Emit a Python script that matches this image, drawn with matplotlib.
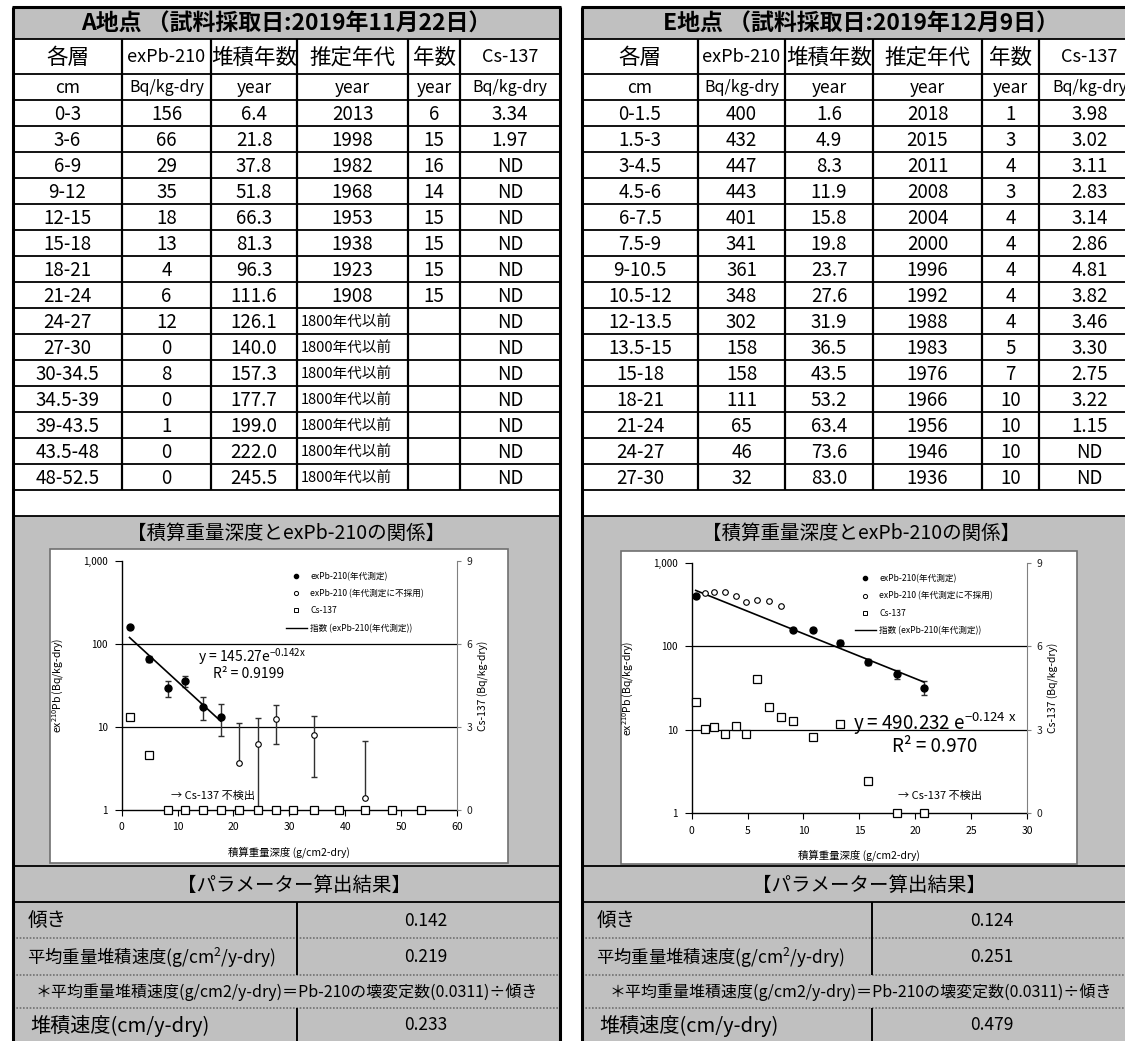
import matplotlib
matplotlib.use('Agg')
import matplotlib.pyplot as plt
import numpy as np
from matplotlib.patches import Rectangle
from matplotlib.lines import Line2D

plt.rcParams['font.family'] = ['Noto Sans CJK JP', 'DejaVu Sans']
plt.rcParams['mathtext.fontset'] = 'dejavusans'

# ---------------- data ----------------
headers = ["各層", "exPb-210", "堆積年数", "推定年代", "年数", "Cs-137"]
units = ["cm", "Bq/kg-dry", "year", "year", "year", "Bq/kg-dry"]

A_title = "A地点 （試料採取日:2019年11月22日）"
A_layers = ["0-3", "3-6", "6-9", "9-12", "12-15", "15-18", "18-21", "21-24", "24-27",
            "27-30", "30-34.5", "34.5-39", "39-43.5", "43.5-48", "48-52.5"]
A_pb = ["156", "66", "29", "35", "18", "13", "4", "6", "12", "0", "8", "0", "1", "0", "0"]
A_years = ["6.4", "21.8", "37.8", "51.8", "66.3", "81.3", "96.3", "111.6", "126.1",
           "140.0", "157.3", "177.7", "199.0", "222.0", "245.5"]
A_age = ["2013", "1998", "1982", "1968", "1953", "1938", "1923", "1908"] + ["1800年代以前"] * 7
A_span = ["6", "15", "16", "14", "15", "15", "15", "15", "", "", "", "", "", "", ""]
A_cs = ["3.34", "1.97"] + ["ND"] * 13

E_title = "E地点 （試料採取日:2019年12月9日）"
E_layers = ["0-1.5", "1.5-3", "3-4.5", "4.5-6", "6-7.5", "7.5-9", "9-10.5", "10.5-12",
            "12-13.5", "13.5-15", "15-18", "18-21", "21-24", "24-27", "27-30"]
E_pb = ["400", "432", "447", "443", "401", "341", "361", "348", "302", "158", "158",
        "111", "65", "46", "32"]
E_years = ["1.6", "4.9", "8.3", "11.9", "15.8", "19.8", "23.7", "27.6", "31.9", "36.5",
           "43.5", "53.2", "63.4", "73.6", "83.0"]
E_age = ["2018", "2015", "2011", "2008", "2004", "2000", "1996", "1992", "1988", "1983",
         "1976", "1966", "1956", "1946", "1936"]
E_span = ["1", "3", "4", "3", "4", "4", "4", "4", "4", "5", "7", "10", "10", "10", "10"]
E_cs = ["3.98", "3.02", "3.11", "2.83", "3.14", "2.86", "4.81", "3.82", "3.46", "3.30",
        "2.75", "3.22", "1.15", "ND", "ND"]

# chart data (cumulative mass depth g/cm2-dry)
A_depth = [1.4, 4.8, 8.2, 11.3, 14.5, 17.7, 21.0, 24.4, 27.6, 30.6, 34.4, 38.8, 43.5, 48.4, 53.6]
A_pb_plot = [158, 66, 29.5, 35.4, 17.4, 13.2, 3.7, 6.3, 12.3, np.nan, 8.0, np.nan, 1.38, np.nan, np.nan]
A_pb_used = [1, 1, 1, 1, 1, 1, 0, 0, 0, 0, 0, 0, 0, 0, 0]
A_err_lo = [8, 6, 6.3, 4.8, 5.4, 5.5, 0, 5.8, 6.1, 0, 5.5, 0, 0, 0, 0]
A_err_hi = [8, 6, 6.0, 5.2, 5.6, 5.7, 7.3, 6.6, 6.0, 0, 5.5, 0, 5.3, 0, 0]
A_cs_plot = [3.34, 1.97, 0, 0, 0, 0, 0, 0, 0, 0, 0, 0, 0, 0, 0]
A_fit = (145.27, 0.142)

E_depth = [0.36, 1.17, 2.03, 2.94, 3.92, 4.88, 5.85, 6.94, 8.0, 9.09, 10.85, 13.28, 15.8, 18.4, 20.75]
E_pb_plot = [400, 432, 447, 443, 401, 341, 361, 348, 302, 158, 158, 111, 65, 46, 32]
E_pb_used = [1, 0, 0, 0, 0, 0, 0, 0, 0, 1, 1, 1, 1, 1, 1]
E_err_lo = [15, 0, 0, 0, 0, 0, 0, 0, 0, 8, 8, 7, 6, 6, 6]
E_err_hi = [15, 0, 0, 0, 0, 0, 0, 0, 0, 8, 8, 7, 6, 6, 6]
E_cs_plot = [3.98, 3.02, 3.11, 2.83, 3.14, 2.86, 4.81, 3.82, 3.46, 3.30, 2.75, 3.22, 1.15, 0, 0]
E_fit = (490.232, 0.124)

A_params = ["0.142", "0.219", "0.233"]
E_params = ["0.124", "0.251", "0.479"]

# ---------------- layout (pixels) ----------------
W, H = 1125, 1041
TITLE_TOP, HDR_TOP, UNIT_TOP, DATA_TOP, ROW_H = 7, 39, 74, 100, 26
DATA_BOT = DATA_TOP + ROW_H * 15
BLANK_BOT = DATA_BOT + 26
CHEAD_BOT = 548
PHEAD_TOP, P1, P2, P3, P4 = 866, 902, 938, 975, 1008
GRAY = '#c0c0c0'

fig = plt.figure(figsize=(W / 100, H / 100), dpi=100)
bg = fig.add_axes([0, 0, 1, 1])
bg.set_xlim(0, W)
bg.set_ylim(H, 0)
bg.axis('off')


def T(x, y, s, size, ha='center', weight='normal'):
    bg.text(x, y, s, fontsize=size, ha=ha, va='center', weight=weight, color='black',
            clip_on=True)


def hline(y, x0, x1, lw=1.3, **kw):
    bg.plot([x0, x1], [y, y], color=kw.pop('color', 'black'), lw=lw, solid_capstyle='butt', **kw)


def vline(x, y0, y1, lw=1.3, color='black'):
    bg.plot([x, x], [y0, y1], color=color, lw=lw, solid_capstyle='butt')


def draw_panel(cols, title, layers, pb, years, age, span, cs, div_x, val_cx, params, box):
    x0, x1 = cols[0], cols[-1]
    cx = (x0 + x1) / 2
    bg.add_patch(Rectangle((x0, TITLE_TOP), x1 - x0, HDR_TOP - TITLE_TOP, fc=GRAY, ec='none'))
    bg.add_patch(Rectangle((x0, BLANK_BOT), x1 - x0, H - BLANK_BOT, fc=GRAY, ec='none'))
    bx0, by0, bx1, by1 = box
    bg.add_patch(Rectangle((bx0, by0), bx1 - bx0, by1 - by0, fc='white', ec='#707070', lw=1.2))
    # horizontal lines
    for y in [HDR_TOP, UNIT_TOP] + [DATA_TOP + ROW_H * i for i in range(16)] + [BLANK_BOT, PHEAD_TOP]:
        hline(y, x0, x1)
    hline(P1, x0, x1, lw=1.3)
    for y in [P2, P3, P4]:
        hline(y, x0, x1, lw=1.2, color='#707070', linestyle=(0, (1, 1)))
    # verticals
    for x in cols[1:-1]:
        vline(x, HDR_TOP, DATA_BOT, lw=1.6)
    vline(div_x, P1, P3, lw=1.4)
    vline(div_x, P4, H, lw=1.4)
    vline(x0, TITLE_TOP, H, lw=2.2)
    vline(x1, TITLE_TOP, H, lw=2.2)
    hline(TITLE_TOP, x0 - 1, x1 + 1, lw=2.2)
    # texts
    T(cx, (TITLE_TOP + HDR_TOP) / 2 + 1, title, 16.5, weight='bold')
    for i, h in enumerate(headers):
        c = (cols[i] + cols[i + 1]) / 2
        size = 13 if h.startswith(('ex', 'Cs')) else 15.5
        T(c, (HDR_TOP + UNIT_TOP) / 2 + 1, h, size)
        usize = 11.5 if 'Bq' in units[i] else 12.5
        T(c, (UNIT_TOP + DATA_TOP) / 2 + 1, units[i], usize)
    for r in range(15):
        y = DATA_TOP + ROW_H * r + ROW_H / 2 + 1
        vals = [layers[r], pb[r], years[r], age[r], span[r], cs[r]]
        for i, v in enumerate(vals):
            if v == "":
                continue
            if v.startswith('1800'):
                T(cols[i] + 4, y, v, 10.5, ha='left')
            else:
                T((cols[i] + cols[i + 1]) / 2, y, v, 13.5)
    T(cx, (BLANK_BOT + CHEAD_BOT) / 2 + 1, "【積算重量深度とexPb-210の関係】", 14)
    T(cx + 8, (PHEAD_TOP + P1) / 2 + 1, "【パラメーター算出結果】", 14)
    T(x0 + 15, (P1 + P2) / 2 + 1, "傾き", 14, ha='left')
    T(val_cx, (P1 + P2) / 2 + 1, params[0], 12.5)
    T(x0 + 14, (P2 + P3) / 2 + 1, r"平均重量堆積速度(g/cm$^{\mathregular{2}}$/y-dry)", 12.5, ha='left')
    T(val_cx, (P2 + P3) / 2 + 1, params[1], 12.5)
    T(cx, (P3 + P4) / 2 + 1, "＊平均重量堆積速度(g/cm2/y-dry)＝Pb-210の壊変定数(0.0311)÷傾き", 11.5)
    T(x0 + 17, (P4 + H) / 2 + 1, "堆積速度(cm/y-dry)", 14.5, ha='left')
    T(val_cx, (P4 + H) / 2 + 1, params[2], 12.5)


A_cols = [13, 122, 211, 297, 408, 460, 560]
E_cols = [582, 698, 785, 873, 982, 1039, 1140]
draw_panel(A_cols, A_title, A_layers, A_pb, A_years, A_age, A_span, A_cs, 297, 426, A_params,
           (50, 549, 508, 863))
draw_panel(E_cols, E_title, E_layers, E_pb, E_years, E_age, E_span, E_cs, 872, 992, E_params,
           (621, 551, 1077, 864))


def draw_chart(px, depth, pb, used, elo, ehi, cs, xmax, xstep, fit, eq_txt, r2_txt,
               eq_xy, r2_xy, eq_fs, nd_xy, leg_x):
    l, t, r, b = px
    ax = fig.add_axes([l / W, 1 - b / H, (r - l) / W, (b - t) / H])
    ax.patch.set_alpha(0)
    ax.set_yscale('log')
    ax.set_xlim(0, xmax)
    ax.set_ylim(1, 1000)
    ax.set_yticks([1, 10, 100, 1000])
    ax.set_yticklabels(['1', '10', '100', '1,000'])
    ax.minorticks_off()
    ax.set_xticks(np.arange(0, xmax + 0.1, xstep))
    ax.tick_params(axis='y', direction='out', length=5, width=0.8, labelsize=7, pad=5)
    ax.tick_params(axis='x', direction='out', length=4, width=0.8, labelsize=7.5, pad=5)
    for sp in ['top', 'right']:
        ax.spines[sp].set_visible(False)
    ax.spines['left'].set_linewidth(1.0)
    ax.spines['bottom'].set_linewidth(1.0)
    for g in [10, 100]:
        ax.axhline(g, color='black', lw=0.9)
    d = np.array(depth, float)
    p = np.array(pb, float)
    u = np.array(used, bool)
    lo = np.array(elo, float)
    hi = np.array(ehi, float)
    ok = ~np.isnan(p)
    ax.errorbar(d[ok], p[ok], yerr=[lo[ok], hi[ok]], fmt='none', ecolor='#303030',
                elinewidth=1.0, capsize=2.5, capthick=1.0, zorder=3)
    ax.plot(d[ok & u], p[ok & u], 'o', color='black', ms=5, zorder=5)
    ax.plot(d[ok & ~u], p[ok & ~u], 'o', mfc='white', mec='black', mew=0.8, ms=4, zorder=5)
    xs = np.linspace(d[ok & u].min(), d[ok & u].max(), 50)
    ax.plot(xs, fit[0] * np.exp(-fit[1] * xs), color='black', lw=1.2, zorder=4)
    ax.text(eq_xy[0], eq_xy[1], eq_txt, fontsize=eq_fs, ha='left', va='center')
    ax.text(r2_xy[0], r2_xy[1], r2_txt, fontsize=eq_fs, ha='left', va='center')
    ax.text(nd_xy[0], nd_xy[1], "→ Cs-137 不検出", fontsize=8, ha='left', va='center')
    ax.set_xlabel("積算重量深度 (g/cm2-dry)", fontsize=7.5, labelpad=10)
    ax.set_ylabel(r"ex$^{\mathregular{210}}$Pb (Bq/kg-dry)", fontsize=7.5, labelpad=12)

    ax2 = ax.twinx()
    ax2.set_ylim(0, 9)
    ax2.set_yticks([0, 3, 6, 9])
    ax2.patch.set_alpha(0)
    for sp in ['top', 'left', 'bottom']:
        ax2.spines[sp].set_visible(False)
    ax2.spines['right'].set_color('#808080')
    ax2.tick_params(axis='y', direction='out', length=3, width=0.8, colors='#808080',
                    labelcolor='#202020', labelsize=7.5, pad=4)
    ax2.plot(depth, cs, 's', mfc='white', mec='black', mew=0.9, ms=5.5, clip_on=False, zorder=6)
    ax2.set_ylabel("Cs-137 (Bq/kg-dry)", fontsize=7.5, labelpad=4)

    handles = [Line2D([], [], ls='none', marker='o', color='black', ms=3),
               Line2D([], [], ls='none', marker='o', mfc='white', mec='black', mew=0.7, ms=3),
               Line2D([], [], ls='none', marker='s', mfc='white', mec='black', mew=0.7, ms=3.5),
               Line2D([], [], color='black', lw=1.0)]
    labels = ["exPb-210(年代測定)", "exPb-210 (年代測定に不採用)", "Cs-137", "指数 (exPb-210(年代測定))"]
    ax.legend(handles, labels, loc='upper left', bbox_to_anchor=(leg_x, 0.955), frameon=False,
              fontsize=6.2, handlelength=2.4, handletextpad=0.4, labelspacing=0.95,
              borderpad=0, borderaxespad=0)


draw_chart((121.7, 560.7, 457, 810), A_depth, A_pb_plot, A_pb_used, A_err_lo, A_err_hi, A_cs_plot,
           60, 10, A_fit, r"y = 145.27e$^{\mathregular{-0.142x}}$", "R² = 0.9199",
           (13.7, 71), (16.4, 43.5), 10, (8.9, 1.47), 0.49)
draw_chart((691.7, 563, 1027, 813), E_depth, E_pb_plot, E_pb_used, E_err_lo, E_err_hi, E_cs_plot,
           30, 5, E_fit, r"y = 490.232 e$^{\mathregular{-0.124\ x}}$", "R² = 0.970",
           (14.45, 11.8), (17.9, 6.3), 13.5, (18.5, 1.585), 0.487)

fig.savefig('out.png', dpi=100)
